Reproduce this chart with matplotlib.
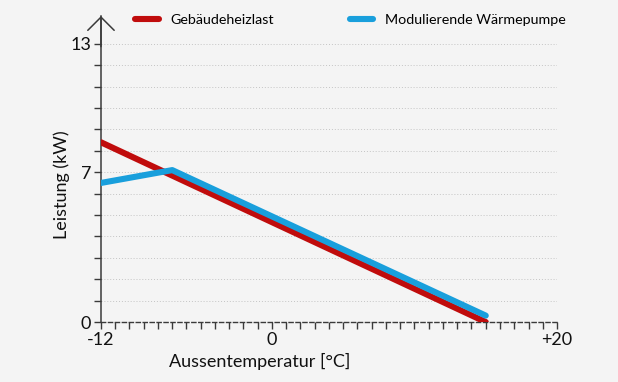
import matplotlib
matplotlib.use('Agg')
import matplotlib.pyplot as plt

plt.rcParams['font.family'] = ['Lato', 'DejaVu Sans']

# Data
temp_load = [-12, 15]
load_kw = [8.4, 0.0]
temp_hp = [-12, -7, 15]
hp_kw = [6.5, 7.1, 0.3]

x_major = [-12, 0, 20]
x_labels = ['-12', '0', '+20']
y_major = [0, 7, 13]
y_labels = ['0', '7', '13']

bg = '#f4f4f4'
red = '#c00c0c'
blue = '#199fdc'
axis_col = '#3a3a3a'

fig = plt.figure(figsize=(6.18, 3.82), dpi=100, facecolor=bg)
ax = fig.add_axes([0.1634, 0.157, 0.7379, 0.801], facecolor=bg)

ax.plot(temp_load, load_kw, color=red, lw=4.4, solid_capstyle='round',
        solid_joinstyle='round', label='Gebäudeheizlast', zorder=3)
ax.plot(temp_hp, hp_kw, color=blue, lw=4.4, solid_capstyle='round',
        solid_joinstyle='round', label='Modulierende Wärmepumpe', zorder=4)

ax.set_xlim(-12, 20)
ax.set_ylim(0, 14.3)

ax.set_xticks(x_major)
ax.set_xticklabels(x_labels)
ax.set_xticks(range(-12, 21), minor=True)
ax.set_yticks(y_major)
ax.set_yticklabels(y_labels)
ax.set_yticks(range(0, 14), minor=True)

ax.tick_params(which='both', direction='out', length=5, width=1, color=axis_col,
               labelsize=13, labelcolor='#111111')
ax.tick_params(axis='x', pad=2)
ax.tick_params(axis='y', pad=2)

# dotted horizontal grid
ax.grid(which='both', axis='y', linestyle=(0, (1, 2)), color='#c4c4c4', lw=0.7)
ax.set_axisbelow(True)

for s in ['top', 'right']:
    ax.spines[s].set_visible(False)
ax.spines['left'].set_color(axis_col)
ax.spines['left'].set_linewidth(1.1)
ax.spines['bottom'].set_color(axis_col)
ax.spines['bottom'].set_linewidth(1.0)
ax.spines['bottom'].set_linestyle((0, (3, 2)))

# arrow head on y axis
ax.annotate('', xy=(0, 1.0), xycoords='axes fraction', xytext=(0, 0.9),
            textcoords='axes fraction',
            arrowprops=dict(arrowstyle='->, head_length=0.95, head_width=0.95',
                            color=axis_col, lw=1.1, shrinkA=0, shrinkB=0))

ax.set_xlabel('Aussentemperatur [°C]', fontsize=13, color='#111111')
ax.set_ylabel('Leistung (kW)', fontsize=13, color='#111111')
ax.xaxis.set_label_coords(0.349, -0.10)
ax.yaxis.set_label_coords(-0.068, 0.448)

fig.legend(loc='center left', bbox_to_anchor=(0.198, 0.948), ncol=2,
           frameon=False, fontsize=10.3, handlelength=1.65, handletextpad=0.8,
           columnspacing=5.3)

fig.savefig('out.png', dpi=100, facecolor=bg)
